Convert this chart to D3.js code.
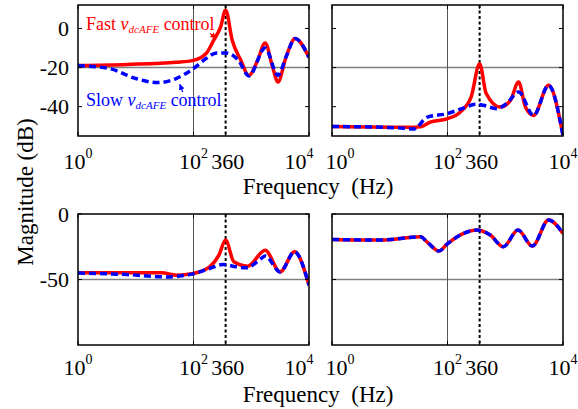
<!DOCTYPE html>
<html>
<head>
<meta charset="utf-8">
<script src="https://cdn.jsdelivr.net/npm/d3@7"></script>
<style>
body { margin: 0; background: #fff; }
text { font-family: "Liberation Serif", "Times New Roman", serif; }
</style>
</head>
<body>
<div id="chart"></div>
<script>
// frequencies in Hz, magnitudes in dB
const fastA_f  = [1, 7, 50, 100, 165, 224, 295, 360, 468, 660, 910, 1290, 1740, 2340, 2900, 4000, 5750, 10000];
const fastA_db = [-19, -18.4, -17.3, -16.3, -12.8, -6, 0.8, 9.4, -6, -16.3, -24, -16.3, -7.4, -19.7, -27.4, -14.6, -5.1, -14.9];
const slowA_f  = [1, 3.5, 10, 24, 50, 100, 165, 250, 360, 600, 910, 1740, 2900, 4000, 5750, 10000];
const slowA_db = [-19, -20.5, -25.6, -27.7, -25.6, -20.5, -15.4, -12.5, -12.5, -16.3, -24.3, -10, -24, -14.6, -5.1, -14.9];

const fastB_f  = [1, 26, 36, 50, 98, 165, 257, 360, 468, 813, 1230, 1700, 2240, 3090, 5620, 10000];
const fastB_db = [-50.1, -50.5, -50.1, -47.9, -46.2, -42.8, -35, -18, -33.3, -40.2, -36.8, -27.4, -40.2, -44.5, -29.1, -54.7];
const slowB_f  = [1, 13, 26, 45, 98, 178, 316, 417, 708, 1050, 1700, 3090, 5620, 10000];
const slowB_db = [-50.1, -50.8, -51.4, -45.3, -43.6, -41, -38.8, -39.3, -41, -38.5, -32.5, -44.5, -29.1, -54.7];

const fastC_f  = [1, 28, 50, 98, 190, 275, 360, 500, 870, 1740, 3160, 5620, 10000];
const fastC_db = [-44.9, -44.9, -46.7, -45.4, -40.3, -31.4, -19.9, -36.5, -39.8, -27.6, -44.2, -28.9, -54.4];
const slowC_f  = [1, 7, 35, 63, 98, 190, 324, 550, 830, 1480, 1740, 3160, 5620, 10000];
const slowC_db = [-45, -46.2, -48, -47.2, -45.7, -41.6, -38.5, -40.3, -41.1, -34, -32, -44.2, -28.9, -54.4];

const bothD_f  = [1, 7, 34, 44, 71, 98, 190, 324, 550, 930, 1660, 2950, 5620, 10000];
const bothD_db = [-19.4, -19.9, -17.4, -21.2, -28.3, -23, -14.8, -12.2, -16.1, -25, -12.2, -24.5, -4.6, -14.8];

const xTicks = [1, 100, 10000];
const fMark = 360;
const yDomains = [[-55, 12], [-100, 0]];
const yTicks = [[0, -20, -40], [0, -50]];
const yGrid = [-20, -50];

const width = 578, height = 409;
const cols = [[78, 309], [332, 563]];
const rows = [[5, 136], [214, 345]];

const panels = [
  { row: 0, col: 0, fast: [fastA_f, fastA_db], slow: [slowA_f, slowA_db] },
  { row: 0, col: 1, fast: [fastB_f, fastB_db], slow: [slowB_f, slowB_db] },
  { row: 1, col: 0, fast: [fastC_f, fastC_db], slow: [slowC_f, slowC_db] },
  { row: 1, col: 1, fast: [bothD_f, bothD_db], slow: [bothD_f, bothD_db] }
];

const svg = d3.select('#chart')
  .append('svg')
  .attr('width', width)
  .attr('height', height);

const defs = svg.append('defs');
['red', 'blue'].forEach(c => {
  defs.append('marker')
    .attr('id', 'arr-' + c)
    .attr('viewBox', '0 0 10 10')
    .attr('refX', 9).attr('refY', 5)
    .attr('markerWidth', 5).attr('markerHeight', 5)
    .attr('orient', 'auto')
    .append('path')
    .attr('d', 'M0,0L10,5L0,10z')
    .attr('fill', c == 'red' ? '#ff0000' : '#0000ff');
});

const tickLabelShift = { '0-10000': -10, '1-1': 8 };
let scales = [];

panels.forEach((p, i) => {
  const x = d3.scaleLog().domain([1, 1e4]).range(cols[p.col]);
  const y = d3.scaleLinear().domain(yDomains[p.row]).range([rows[p.row][1], rows[p.row][0]]);
  scales.push({ x, y });
  const [x0, x1] = cols[p.col];
  const [y0, y1] = rows[p.row];

  defs.append('clipPath').attr('id', 'clip' + i)
    .append('rect').attr('x', x0).attr('y', y0).attr('width', x1 - x0).attr('height', y1 - y0);

  const g = svg.append('g');

  // grid
  g.append('line')
    .attr('x1', x0).attr('x2', x1)
    .attr('y1', y(yGrid[p.row])).attr('y2', y(yGrid[p.row]))
    .attr('stroke', '#808080').attr('stroke-width', 1.5);
  g.append('line')
    .attr('x1', x(100)).attr('x2', x(100))
    .attr('y1', y0).attr('y2', y1)
    .attr('stroke', '#555').attr('stroke-width', 1);

  // 360 Hz marker
  g.append('line')
    .attr('x1', x(fMark)).attr('x2', x(fMark))
    .attr('y1', y0).attr('y2', y1)
    .attr('stroke', '#000').attr('stroke-width', 2)
    .attr('stroke-dasharray', '3,2.5');

  const line = d3.line()
    .x(d => x(d[0]))
    .y(d => y(d[1]))
    .curve(d3.curveMonotoneX);

  const curves = g.append('g').attr('clip-path', `url(#clip${i})`);
  curves.append('path')
    .datum(d3.zip(p.fast[0], p.fast[1]))
    .attr('d', line)
    .attr('fill', 'none').attr('stroke', '#ff0000').attr('stroke-width', 3.5);
  curves.append('path')
    .datum(d3.zip(p.slow[0], p.slow[1]))
    .attr('d', line)
    .attr('fill', 'none').attr('stroke', '#0000ff').attr('stroke-width', 3.5)
    .attr('stroke-dasharray', '7,4');

  // frame
  g.append('rect')
    .attr('x', x0).attr('y', y0).attr('width', x1 - x0).attr('height', y1 - y0)
    .attr('fill', 'none').attr('stroke', '#000').attr('stroke-width', 1.5);

  // ticks inside
  const tl = 4;
  xTicks.concat([fMark]).forEach(t => {
    g.append('line').attr('x1', x(t)).attr('x2', x(t)).attr('y1', y1).attr('y2', y1 - tl).attr('stroke', '#000');
    g.append('line').attr('x1', x(t)).attr('x2', x(t)).attr('y1', y0).attr('y2', y0 + tl).attr('stroke', '#000');
  });
  yTicks[p.row].forEach(t => {
    g.append('line').attr('x1', x0).attr('x2', x0 + tl).attr('y1', y(t)).attr('y2', y(t)).attr('stroke', '#000');
    g.append('line').attr('x1', x1).attr('x2', x1 - tl).attr('y1', y(t)).attr('y2', y(t)).attr('stroke', '#000');
  });

  // x tick labels
  const base = p.row == 0 ? 169 : 375;
  xTicks.forEach(t => {
    const shift = tickLabelShift[p.col + '-' + t] || 0;
    const txt = g.append('text')
      .attr('x', x(t) + shift).attr('y', base)
      .attr('text-anchor', 'middle')
      .attr('font-size', 22);
    txt.append('tspan').text('10');
    txt.append('tspan').attr('dy', -11).attr('font-size', 14).text(Math.log10(t));
  });
  g.append('text')
    .attr('x', x(fMark) + 2).attr('y', base)
    .attr('text-anchor', 'middle')
    .attr('font-size', 22)
    .text(fMark);

  // y tick labels on left column
  if (p.col == 0) {
    yTicks[p.row].forEach(t => {
      g.append('text')
        .attr('x', x0 - 9).attr('y', y(t))
        .attr('text-anchor', 'end')
        .attr('dominant-baseline', 'central')
        .attr('font-size', 22)
        .text(t);
    });
  }
});

// axis titles
[194, 402].forEach(b => {
  svg.append('text')
    .attr('x', 318).attr('y', b)
    .attr('text-anchor', 'middle')
    .attr('font-size', 23)
    .style('white-space', 'pre')
    .text('Frequency  (Hz)');
});
svg.append('text')
  .attr('transform', 'translate(33,192) rotate(-90)')
  .attr('text-anchor', 'middle')
  .attr('font-size', 23)
  .text('Magnitude (dB)');

// annotations in the first panel
const sA = scales[0];
const notes = [
  { label: 'Fast ', color: '#ff0000', f: 1.38, db: -0.8 },
  { label: 'Slow ', color: '#0000ff', f: 1.38, db: -39.7 }
];
notes.forEach(n => {
  const t = svg.append('text')
    .attr('x', sA.x(n.f)).attr('y', sA.y(n.db))
    .attr('font-size', 18)
    .attr('fill', n.color)
    .style('white-space', 'pre');
  t.append('tspan').text(n.label);
  t.append('tspan').attr('font-style', 'italic').text('v');
  t.append('tspan').attr('font-style', 'italic').attr('font-size', 11).attr('dy', 3).text('dcAFE');
  t.append('tspan').attr('dy', -3).text(' control');
});

const arrows = [
  { color: 'red', from: [193, -2.5], to: [245, -4.9] },
  { color: 'blue', from: [65, -32.5], to: [58, -28.6] }
];
arrows.forEach(a => {
  svg.append('line')
    .attr('x1', sA.x(a.from[0])).attr('y1', sA.y(a.from[1]))
    .attr('x2', sA.x(a.to[0])).attr('y2', sA.y(a.to[1]))
    .attr('stroke', a.color == 'red' ? '#ff0000' : '#0000ff')
    .attr('stroke-width', 1.2)
    .attr('marker-end', `url(#arr-${a.color})`);
});
</script>
</body>
</html>
